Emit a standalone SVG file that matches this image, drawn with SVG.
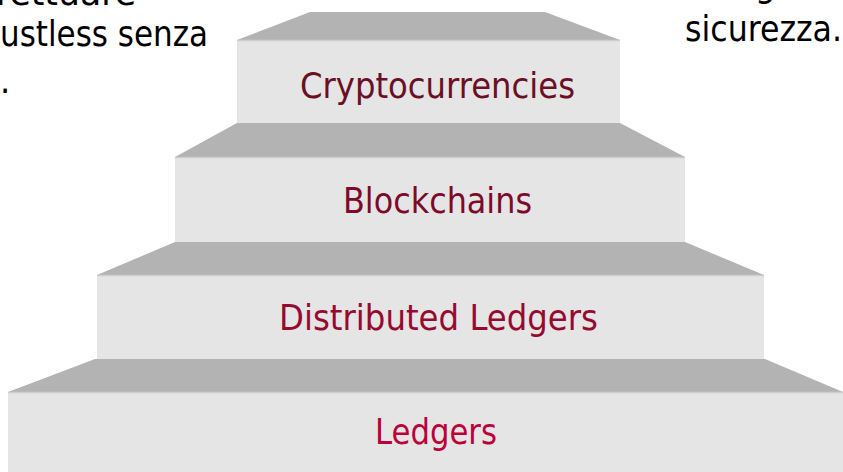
<svg xmlns="http://www.w3.org/2000/svg" width="843" height="472" viewBox="0 0 843 472">
<style>
.top{fill:#b3b3b3}
.face{fill:#e5e5e5}
.edge{stroke:#cdcdcd;stroke-width:1.5}
.lbl{font-family:"DejaVu Sans Condensed","DejaVu Sans",sans-serif;font-size:36px;text-anchor:middle}
.body{font-family:"DejaVu Sans Condensed","DejaVu Sans",sans-serif;font-size:36px;fill:#000}
</style>
<rect width="843" height="472" fill="#ffffff"/>
<g id="text-left">
<text class="body" x="136" y="5" text-anchor="end" textLength="140" lengthAdjust="spacingAndGlyphs">rettuare</text>
<text class="body" x="0" y="46" textLength="208" lengthAdjust="spacingAndGlyphs">ustless senza</text>
<text class="body" x="0" y="93">.</text>
</g>
<g id="text-right">
<text class="body" x="755" y="-3">g</text>
<text class="body" x="685" y="41" textLength="157" lengthAdjust="spacingAndGlyphs">sicurezza.</text>
</g>
<g id="step-ledgers">
<polygon class="top" points="95,359 765,359 843,392 8,392"/>
<rect class="face" x="8" y="392" width="835" height="80"/>
<line class="edge" x1="8" y1="392.5" x2="843" y2="392.5"/>
<text class="lbl" x="436" y="444" fill="#bb003a" textLength="122" lengthAdjust="spacingAndGlyphs">Ledgers</text>
</g>
<g id="step-distributed">
<polygon class="top" points="175,242 685,242 764,275 97,275"/>
<rect class="face" x="97" y="275" width="667" height="84"/>
<line class="edge" x1="97" y1="275.5" x2="764" y2="275.5"/>
<text class="lbl" x="438.5" y="330" fill="#970a30" textLength="319" lengthAdjust="spacingAndGlyphs">Distributed Ledgers</text>
</g>
<g id="step-blockchains">
<polygon class="top" points="237,123 620,123 685,157 175,157"/>
<rect class="face" x="175" y="157" width="510" height="85"/>
<line class="edge" x1="175" y1="157.5" x2="685" y2="157.5"/>
<text class="lbl" x="437.5" y="213" fill="#7d0a2a" textLength="189" lengthAdjust="spacingAndGlyphs">Blockchains</text>
</g>
<g id="step-crypto">
<polygon class="top" points="310,12 545,12 620,40 237,40"/>
<rect class="face" x="237" y="40" width="383" height="83"/>
<line class="edge" x1="237" y1="40.5" x2="620" y2="40.5"/>
<text class="lbl" x="437.5" y="98" fill="#6b0f25" textLength="275" lengthAdjust="spacingAndGlyphs">Cryptocurrencies</text>
</g>
<g id="connectors"/>
</svg>
